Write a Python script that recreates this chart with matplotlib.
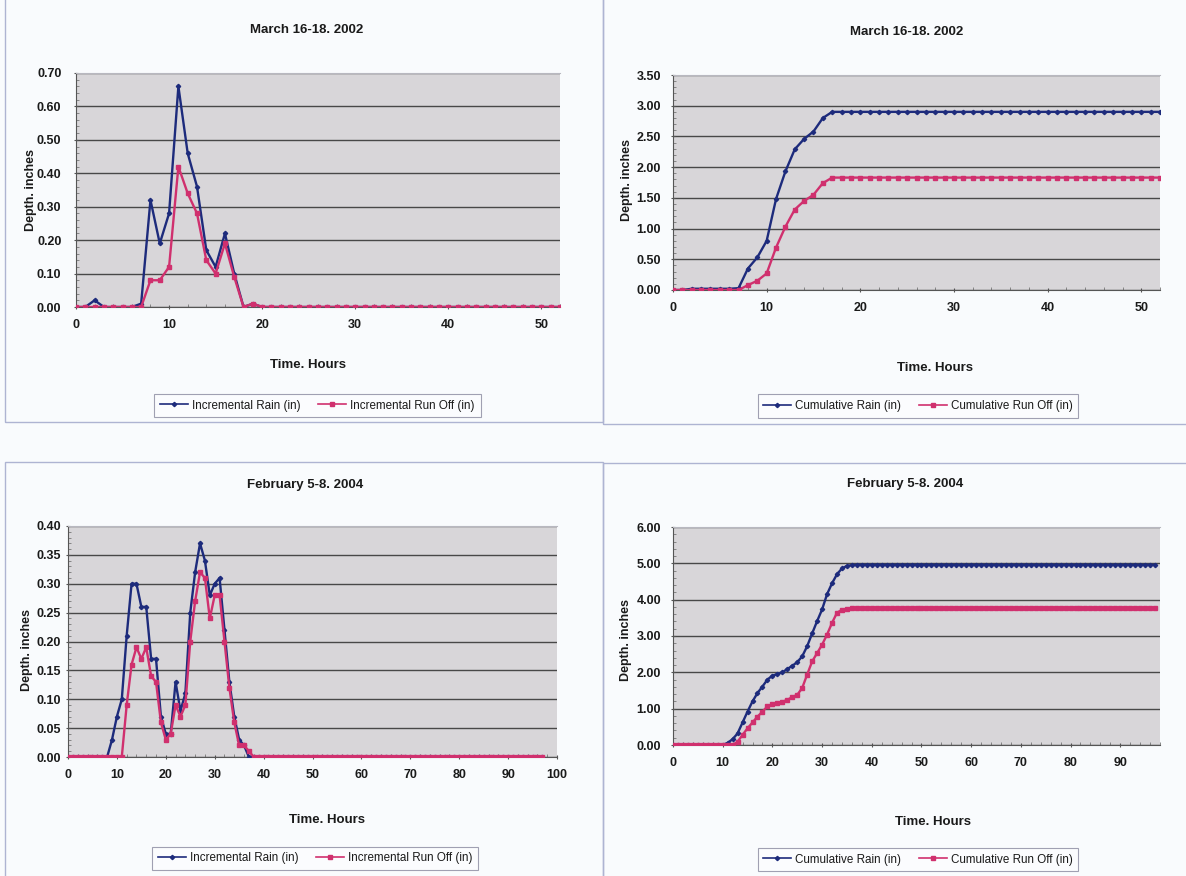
import numpy as np
import matplotlib
matplotlib.use("Agg")
import matplotlib.pyplot as plt
from matplotlib.patches import Rectangle
from matplotlib.ticker import MultipleLocator, FormatStrFormatter

plt.rcParams["font.family"] = ["Liberation Sans", "DejaVu Sans"]

# ---------------- data ----------------
hours_2002 = list(range(53))
inc_rain_2002 = [0.00, 0.00, 0.02, 0.00, 0.00, 0.00, 0.00, 0.01, 0.32, 0.19,
                 0.28, 0.66, 0.46, 0.36, 0.17, 0.12, 0.22, 0.10, 0.00, 0.01,
                 0.00, 0.00, 0.00, 0.00, 0.00, 0.00, 0.00, 0.00, 0.00, 0.00,
                 0.00, 0.00, 0.00, 0.00, 0.00, 0.00, 0.00, 0.00, 0.00, 0.00,
                 0.00, 0.00, 0.00, 0.00, 0.00, 0.00, 0.00, 0.00, 0.00, 0.00,
                 0.00, 0.00, 0.00]
inc_runoff_2002 = [0.00, 0.00, 0.00, 0.00, 0.00, 0.00, 0.00, 0.00, 0.08, 0.08,
                   0.12, 0.42, 0.34, 0.28, 0.14, 0.10, 0.19, 0.09, 0.00, 0.01,
                   0.00, 0.00, 0.00, 0.00, 0.00, 0.00, 0.00, 0.00, 0.00, 0.00,
                   0.00, 0.00, 0.00, 0.00, 0.00, 0.00, 0.00, 0.00, 0.00, 0.00,
                   0.00, 0.00, 0.00, 0.00, 0.00, 0.00, 0.00, 0.00, 0.00, 0.00,
                   0.00, 0.00, 0.00]
cum_rain_2002 = [0.00, 0.00, 0.02, 0.02, 0.02, 0.02, 0.02, 0.03, 0.35, 0.53,
                 0.80, 1.48, 1.93, 2.29, 2.46, 2.58, 2.80, 2.90, 2.90, 2.90,
                 2.90, 2.90, 2.90, 2.90, 2.90, 2.90, 2.90, 2.90, 2.90, 2.90,
                 2.90, 2.90, 2.90, 2.90, 2.90, 2.90, 2.90, 2.90, 2.90, 2.90,
                 2.90, 2.90, 2.90, 2.90, 2.90, 2.90, 2.90, 2.90, 2.90, 2.90,
                 2.90, 2.90, 2.90]
cum_runoff_2002 = [0.00, 0.00, 0.00, 0.00, 0.00, 0.00, 0.00, 0.00, 0.08, 0.15,
                   0.27, 0.69, 1.03, 1.31, 1.45, 1.55, 1.74, 1.83, 1.83, 1.83,
                   1.83, 1.83, 1.83, 1.83, 1.83, 1.83, 1.83, 1.83, 1.83, 1.83,
                   1.83, 1.83, 1.83, 1.83, 1.83, 1.83, 1.83, 1.83, 1.83, 1.83,
                   1.83, 1.83, 1.83, 1.83, 1.83, 1.83, 1.83, 1.83, 1.83, 1.83,
                   1.83, 1.83, 1.83]

hours_2004 = list(range(98))
inc_rain_2004 = [0.00, 0.00, 0.00, 0.00, 0.00, 0.00, 0.00, 0.00, 0.00, 0.03,
                 0.07, 0.10, 0.21, 0.30, 0.30, 0.26, 0.26, 0.17, 0.17, 0.07,
                 0.04, 0.04, 0.13, 0.08, 0.11, 0.25, 0.32, 0.37, 0.34, 0.28,
                 0.30, 0.31, 0.22, 0.13, 0.07, 0.03, 0.02, 0.00, 0.00, 0.00,
                 0.00, 0.00, 0.00, 0.00, 0.00, 0.00, 0.00, 0.00, 0.00, 0.00,
                 0.00, 0.00, 0.00, 0.00, 0.00, 0.00, 0.00, 0.00, 0.00, 0.00,
                 0.00, 0.00, 0.00, 0.00, 0.00, 0.00, 0.00, 0.00, 0.00, 0.00,
                 0.00, 0.00, 0.00, 0.00, 0.00, 0.00, 0.00, 0.00, 0.00, 0.00,
                 0.00, 0.00, 0.00, 0.00, 0.00, 0.00, 0.00, 0.00, 0.00, 0.00,
                 0.00, 0.00, 0.00, 0.00, 0.00, 0.00, 0.00, 0.00]
inc_runoff_2004 = [0.00, 0.00, 0.00, 0.00, 0.00, 0.00, 0.00, 0.00, 0.00, 0.00,
                   0.00, 0.00, 0.09, 0.16, 0.19, 0.17, 0.19, 0.14, 0.13, 0.06,
                   0.03, 0.04, 0.09, 0.07, 0.09, 0.20, 0.27, 0.32, 0.31, 0.24,
                   0.28, 0.28, 0.20, 0.12, 0.06, 0.02, 0.02, 0.01, 0.00, 0.00,
                   0.00, 0.00, 0.00, 0.00, 0.00, 0.00, 0.00, 0.00, 0.00, 0.00,
                   0.00, 0.00, 0.00, 0.00, 0.00, 0.00, 0.00, 0.00, 0.00, 0.00,
                   0.00, 0.00, 0.00, 0.00, 0.00, 0.00, 0.00, 0.00, 0.00, 0.00,
                   0.00, 0.00, 0.00, 0.00, 0.00, 0.00, 0.00, 0.00, 0.00, 0.00,
                   0.00, 0.00, 0.00, 0.00, 0.00, 0.00, 0.00, 0.00, 0.00, 0.00,
                   0.00, 0.00, 0.00, 0.00, 0.00, 0.00, 0.00, 0.00]
cum_rain_2004 = [0.00, 0.00, 0.00, 0.00, 0.00, 0.00, 0.00, 0.00, 0.00, 0.00,
                 0.00, 0.06, 0.16, 0.32, 0.62, 0.92, 1.20, 1.43, 1.61, 1.80,
                 1.91, 1.95, 2.00, 2.09, 2.18, 2.28, 2.44, 2.72, 3.07, 3.41,
                 3.73, 4.15, 4.45, 4.70, 4.86, 4.93, 4.95, 4.96, 4.96, 4.96,
                 4.96, 4.96, 4.96, 4.96, 4.96, 4.96, 4.96, 4.96, 4.96, 4.96,
                 4.96, 4.96, 4.96, 4.96, 4.96, 4.96, 4.96, 4.96, 4.96, 4.96,
                 4.96, 4.96, 4.96, 4.96, 4.96, 4.96, 4.96, 4.96, 4.96, 4.96,
                 4.96, 4.96, 4.96, 4.96, 4.96, 4.96, 4.96, 4.96, 4.96, 4.96,
                 4.96, 4.96, 4.96, 4.96, 4.96, 4.96, 4.96, 4.96, 4.96, 4.96,
                 4.96, 4.96, 4.96, 4.96, 4.96, 4.96, 4.96, 4.96]
cum_runoff_2004 = [0.00, 0.00, 0.00, 0.00, 0.00, 0.00, 0.00, 0.00, 0.00, 0.00,
                   0.00, 0.00, 0.00, 0.09, 0.28, 0.46, 0.62, 0.78, 0.92, 1.06,
                   1.12, 1.15, 1.19, 1.24, 1.32, 1.38, 1.57, 1.94, 2.30, 2.53,
                   2.76, 3.04, 3.36, 3.64, 3.72, 3.75, 3.76, 3.77, 3.77, 3.77,
                   3.77, 3.77, 3.77, 3.77, 3.77, 3.77, 3.77, 3.77, 3.77, 3.77,
                   3.77, 3.77, 3.77, 3.77, 3.77, 3.77, 3.77, 3.77, 3.77, 3.77,
                   3.77, 3.77, 3.77, 3.77, 3.77, 3.77, 3.77, 3.77, 3.77, 3.77,
                   3.77, 3.77, 3.77, 3.77, 3.77, 3.77, 3.77, 3.77, 3.77, 3.77,
                   3.77, 3.77, 3.77, 3.77, 3.77, 3.77, 3.77, 3.77, 3.77, 3.77,
                   3.77, 3.77, 3.77, 3.77, 3.77, 3.77, 3.77, 3.77]

titles = ["March 16-18. 2002", "February 5-8. 2004"]
x_label = "Time. Hours"
y_label = "Depth. inches"

# ---------------- styling ----------------
W, H = 1186, 876
BLUE = "#1d2b7c"
RED = "#d0306e"
PLOT_BG = "#d8d6d9"
GRID = "#484848"
TXT = "#1a1a1a"

fig = plt.figure(figsize=(W / 100, H / 100), dpi=100)
fig.patch.set_facecolor("#f9fbfd")


def rect(x0, y0, x1, y1):
    return [x0 / W, 1 - y1 / H, (x1 - x0) / W, (y1 - y0) / H]


def fx(x):
    return x / W


def fy(y):
    return 1 - y / H


# chart-area frames
for (x0, y0, x1, y1) in [(5, -2, 603, 422), (603, -2, 1190, 424),
                         (5, 462, 603, 880), (603, 463, 1190, 880)]:
    fig.patches.append(Rectangle((fx(x0), fy(y1)), (x1 - x0) / W, (y1 - y0) / H,
                                 transform=fig.transFigure, fill=False,
                                 edgecolor="#aeb4d2", lw=1.0))


def draw_panel(box, x, y1, y2, labels, xmax, xticks, ystep, ymax, ypad,
               title_xy, xlabel_xy, ylabel_xy, legend_box):
    ax = fig.add_axes(rect(*box))
    ax.set_facecolor(PLOT_BG)
    ax.plot(x, y1, color=BLUE, lw=1.7, marker="D", ms=2.2,
            mfc=BLUE, mec=BLUE, label=labels[0], zorder=3)
    ax.plot(x, y2, color=RED, lw=1.7, marker="s", ms=2.4,
            mfc=RED, mec=RED, label=labels[1], zorder=4)
    ax.set_xlim(0, xmax)
    ax.set_ylim(0, ymax)
    ax.set_xticks(xticks)
    ax.yaxis.set_major_locator(MultipleLocator(ystep))
    ax.yaxis.set_major_formatter(FormatStrFormatter("%.2f"))
    ax.xaxis.set_minor_locator(MultipleLocator(2))
    ax.yaxis.set_minor_locator(MultipleLocator(ystep / 5))
    ax.grid(axis="y", which="major", color=GRID, lw=1.0)
    ax.set_axisbelow(True)
    ax.spines["right"].set_visible(False)
    ax.spines["top"].set_color("#b8b8c0")
    ax.spines["left"].set_color("#555555")
    ax.spines["bottom"].set_color("#555555")
    ax.tick_params(axis="both", which="major", labelsize=9, colors="#555555",
                   labelcolor=TXT, length=3, width=0.8, direction="inout")
    ax.tick_params(axis="both", which="minor", colors="#777777",
                   length=2, width=0.6, direction="in")
    ax.tick_params(axis="x", pad=7)
    ax.tick_params(axis="y", pad=ypad)
    for t in ax.get_xticklabels() + ax.get_yticklabels():
        t.set_fontweight("bold")

    fig.text(fx(title_xy[0]), fy(title_xy[1]), title_xy[2], ha="center",
             va="center", fontsize=9.5, fontweight="bold", color=TXT)
    fig.text(fx(xlabel_xy[0]), fy(xlabel_xy[1]), x_label, ha="center",
             va="center", fontsize=9.5, fontweight="bold", color=TXT)
    fig.text(fx(ylabel_xy[0]), fy(ylabel_xy[1]), y_label, ha="center",
             va="center", fontsize=9, fontweight="bold", color=TXT,
             rotation=90)

    lx0, ly0, lx1, ly1 = legend_box
    leg = ax.legend(loc="center", ncol=2, frameon=True, fancybox=False,
                    bbox_to_anchor=(fx((lx0 + lx1) / 2), fy((ly0 + ly1) / 2)),
                    bbox_transform=fig.transFigure, fontsize=8.4,
                    handlelength=2.4, columnspacing=1.5, handletextpad=0.35,
                    borderpad=0.5, borderaxespad=0)
    leg.get_frame().set_edgecolor("#8a8aa0")
    leg.get_frame().set_linewidth(0.8)
    leg.get_frame().set_facecolor("#fcfdff")
    for h in leg.get_lines():
        h.set_linewidth(1.2)
    for t in leg.get_texts():
        t.set_color(TXT)
    return ax


draw_panel((76, 73, 560, 307), hours_2002, inc_rain_2002, inc_runoff_2002,
           ["Incremental Rain (in)", "Incremental Run Off (in)"],
           52, list(range(0, 51, 10)), 0.10, 0.70, 9,
           (307, 30, titles[0]), (308, 365), (31, 190), (151, 392, 484, 419))

draw_panel((673, 75, 1160, 290), hours_2002, cum_rain_2002, cum_runoff_2002,
           ["Cumulative Rain (in)", "Cumulative Run Off (in)"],
           52, list(range(0, 51, 10)), 0.50, 3.50, 7,
           (907, 32, titles[0]), (935, 368), (627, 180), (748, 393, 1088, 419))

draw_panel((68, 526, 557, 757), hours_2004, inc_rain_2004, inc_runoff_2004,
           ["Incremental Rain (in)", "Incremental Run Off (in)"],
           100, list(range(0, 101, 10)), 0.05, 0.40, 3.5,
           (305, 485, titles[1]), (327, 820), (27, 650), (148, 845, 482, 872))

draw_panel((673, 527, 1160, 745), hours_2004, cum_rain_2004, cum_runoff_2004,
           ["Cumulative Rain (in)", "Cumulative Run Off (in)"],
           98, list(range(0, 91, 10)), 1.00, 6.00, 7,
           (905, 484, titles[1]), (933, 822), (626, 640), (748, 847, 1088, 872))

fig.savefig("out.png", dpi=100, facecolor=fig.get_facecolor())
